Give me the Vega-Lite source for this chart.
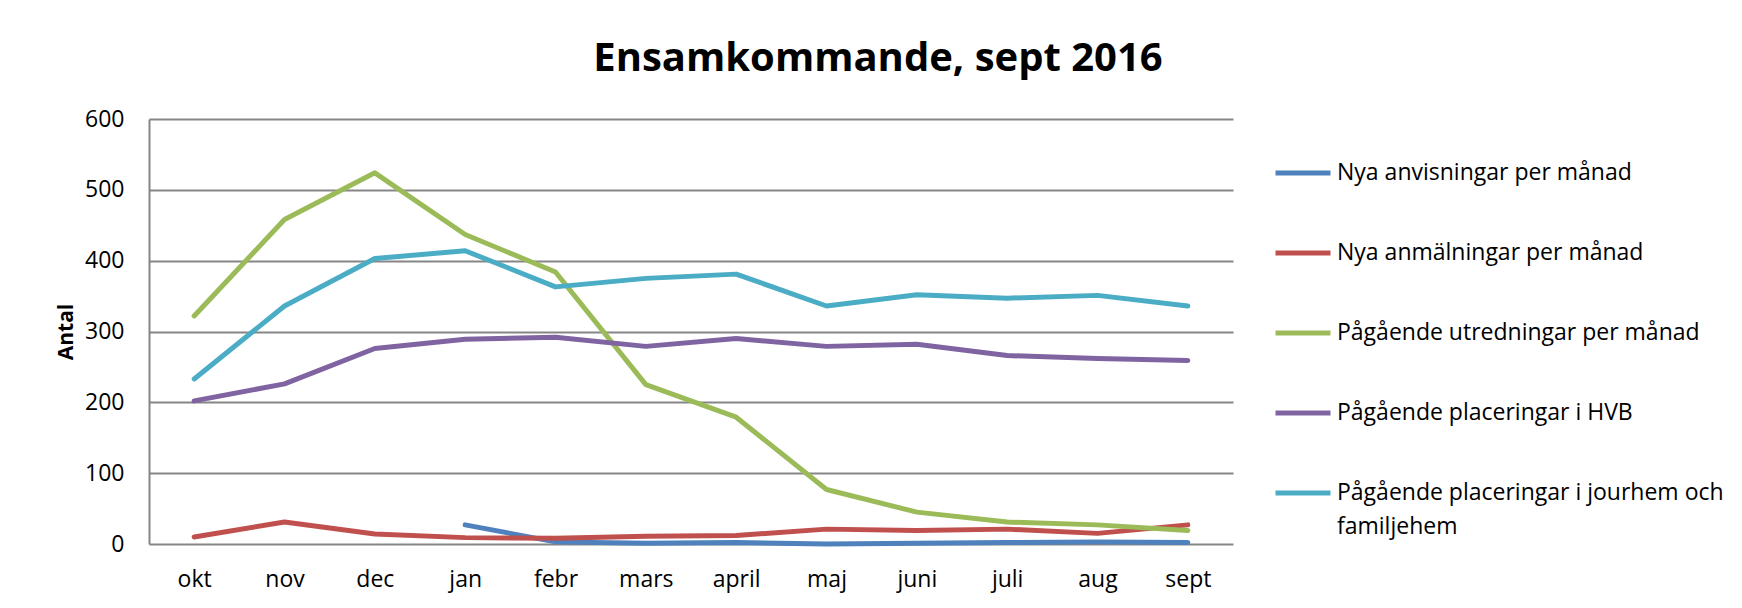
{
  "$schema": "https://vega.github.io/schema/vega-lite/v6.json",
  "width": 1084,
  "height": 425,
  "autosize": {"type": "none"},
  "padding": {"left": 149, "top": 119, "right": 509, "bottom": 64},
  "background": "white",
  "title": {
    "text": "Ensamkommande, sept 2016",
    "font": "Open Sans",
    "fontSize": 40,
    "fontWeight": "bold",
    "color": "black",
    "anchor": "middle",
    "frame": "group",
    "dx": 187,
    "offset": 29
  },
  "data": {
    "values": [
      {"month": "jan", "series": "Nya anvisningar per månad", "value": 27},
      {"month": "febr", "series": "Nya anvisningar per månad", "value": 3},
      {"month": "mars", "series": "Nya anvisningar per månad", "value": 1},
      {"month": "april", "series": "Nya anvisningar per månad", "value": 2},
      {"month": "maj", "series": "Nya anvisningar per månad", "value": 0},
      {"month": "juni", "series": "Nya anvisningar per månad", "value": 1},
      {"month": "juli", "series": "Nya anvisningar per månad", "value": 2},
      {"month": "aug", "series": "Nya anvisningar per månad", "value": 3},
      {"month": "sept", "series": "Nya anvisningar per månad", "value": 2},

      {"month": "okt", "series": "Nya anmälningar per månad", "value": 10},
      {"month": "nov", "series": "Nya anmälningar per månad", "value": 31},
      {"month": "dec", "series": "Nya anmälningar per månad", "value": 14},
      {"month": "jan", "series": "Nya anmälningar per månad", "value": 9},
      {"month": "febr", "series": "Nya anmälningar per månad", "value": 8},
      {"month": "mars", "series": "Nya anmälningar per månad", "value": 11},
      {"month": "april", "series": "Nya anmälningar per månad", "value": 12},
      {"month": "maj", "series": "Nya anmälningar per månad", "value": 21},
      {"month": "juni", "series": "Nya anmälningar per månad", "value": 19},
      {"month": "juli", "series": "Nya anmälningar per månad", "value": 21},
      {"month": "aug", "series": "Nya anmälningar per månad", "value": 15},
      {"month": "sept", "series": "Nya anmälningar per månad", "value": 27},

      {"month": "okt", "series": "Pågående utredningar per månad", "value": 322},
      {"month": "nov", "series": "Pågående utredningar per månad", "value": 458},
      {"month": "dec", "series": "Pågående utredningar per månad", "value": 524},
      {"month": "jan", "series": "Pågående utredningar per månad", "value": 437},
      {"month": "febr", "series": "Pågående utredningar per månad", "value": 384},
      {"month": "mars", "series": "Pågående utredningar per månad", "value": 225},
      {"month": "april", "series": "Pågående utredningar per månad", "value": 179},
      {"month": "maj", "series": "Pågående utredningar per månad", "value": 77},
      {"month": "juni", "series": "Pågående utredningar per månad", "value": 45},
      {"month": "juli", "series": "Pågående utredningar per månad", "value": 31},
      {"month": "aug", "series": "Pågående utredningar per månad", "value": 27},
      {"month": "sept", "series": "Pågående utredningar per månad", "value": 19},

      {"month": "okt", "series": "Pågående placeringar i HVB", "value": 202},
      {"month": "nov", "series": "Pågående placeringar i HVB", "value": 226},
      {"month": "dec", "series": "Pågående placeringar i HVB", "value": 276},
      {"month": "jan", "series": "Pågående placeringar i HVB", "value": 289},
      {"month": "febr", "series": "Pågående placeringar i HVB", "value": 292},
      {"month": "mars", "series": "Pågående placeringar i HVB", "value": 279},
      {"month": "april", "series": "Pågående placeringar i HVB", "value": 290},
      {"month": "maj", "series": "Pågående placeringar i HVB", "value": 279},
      {"month": "juni", "series": "Pågående placeringar i HVB", "value": 282},
      {"month": "juli", "series": "Pågående placeringar i HVB", "value": 266},
      {"month": "aug", "series": "Pågående placeringar i HVB", "value": 262},
      {"month": "sept", "series": "Pågående placeringar i HVB", "value": 259},

      {"month": "okt", "series": "Pågående placeringar i jourhem och familjehem", "value": 233},
      {"month": "nov", "series": "Pågående placeringar i jourhem och familjehem", "value": 336},
      {"month": "dec", "series": "Pågående placeringar i jourhem och familjehem", "value": 403},
      {"month": "jan", "series": "Pågående placeringar i jourhem och familjehem", "value": 414},
      {"month": "febr", "series": "Pågående placeringar i jourhem och familjehem", "value": 363},
      {"month": "mars", "series": "Pågående placeringar i jourhem och familjehem", "value": 375},
      {"month": "april", "series": "Pågående placeringar i jourhem och familjehem", "value": 381},
      {"month": "maj", "series": "Pågående placeringar i jourhem och familjehem", "value": 336},
      {"month": "juni", "series": "Pågående placeringar i jourhem och familjehem", "value": 352},
      {"month": "juli", "series": "Pågående placeringar i jourhem och familjehem", "value": 347},
      {"month": "aug", "series": "Pågående placeringar i jourhem och familjehem", "value": 351},
      {"month": "sept", "series": "Pågående placeringar i jourhem och familjehem", "value": 336}
    ]
  },
  "mark": {"type": "line", "strokeWidth": 5, "strokeCap": "round", "strokeJoin": "round"},
  "encoding": {
    "x": {
      "field": "month",
      "type": "ordinal",
      "sort": ["okt", "nov", "dec", "jan", "febr", "mars", "april", "maj", "juni", "juli", "aug", "sept"],
      "scale": {"type": "point", "padding": 0.5},
      "axis": {
        "title": null,
        "labelAngle": 0,
        "labelFont": "Open Sans",
        "labelFontSize": 23,
        "labelColor": "black",
        "labelPadding": 24,
        "ticks": false,
        "grid": false,
        "domain": false
      }
    },
    "y": {
      "field": "value",
      "type": "quantitative",
      "scale": {"domain": [0, 600], "nice": false},
      "axis": {
        "title": "Antal",
        "titleFont": "Open Sans",
        "titleFontSize": 21,
        "titleFontWeight": "bold",
        "titleColor": "black",
        "titlePadding": 8,
        "values": [0, 100, 200, 300, 400, 500, 600],
        "labelFont": "Open Sans",
        "labelFontSize": 23,
        "labelColor": "black",
        "labelPadding": 25,
        "ticks": false,
        "domain": true,
        "domainColor": "#868686",
        "domainWidth": 2,
        "grid": true,
        "gridColor": "#868686",
        "gridWidth": 2
      }
    },
    "color": {
      "field": "series",
      "type": "nominal",
      "scale": {
        "domain": ["Nya anvisningar per månad", "Nya anmälningar per månad", "Pågående utredningar per månad", "Pågående placeringar i HVB", "Pågående placeringar i jourhem och familjehem"],
        "range": ["#4F81BD", "#C0504D", "#9BBB59", "#8064A2", "#4BACC6"]
      },
      "legend": {
        "title": null,
        "orient": "none",
        "legendX": 1124,
        "legendY": 24,
        "padding": 0,
        "symbolType": "stroke",
        "symbolSize": 3025,
        "symbolStrokeWidth": 5,
        "labelFont": "Open Sans",
        "labelFontSize": 23,
        "labelColor": "black",
        "labelOffset": 4,
        "labelLimit": 600,
        "rowPadding": 38,
        "labelBaseline": "middle",
        "labelExpr": "datum.label === 'Pågående placeringar i jourhem och familjehem' ? ['Pågående placeringar i jourhem och', 'familjehem'] : datum.label"
      }
    }
  },
  "config": {
    "view": {"stroke": null},
    "style": {"guide-label": {"lineHeight": 34}}
  }
}
